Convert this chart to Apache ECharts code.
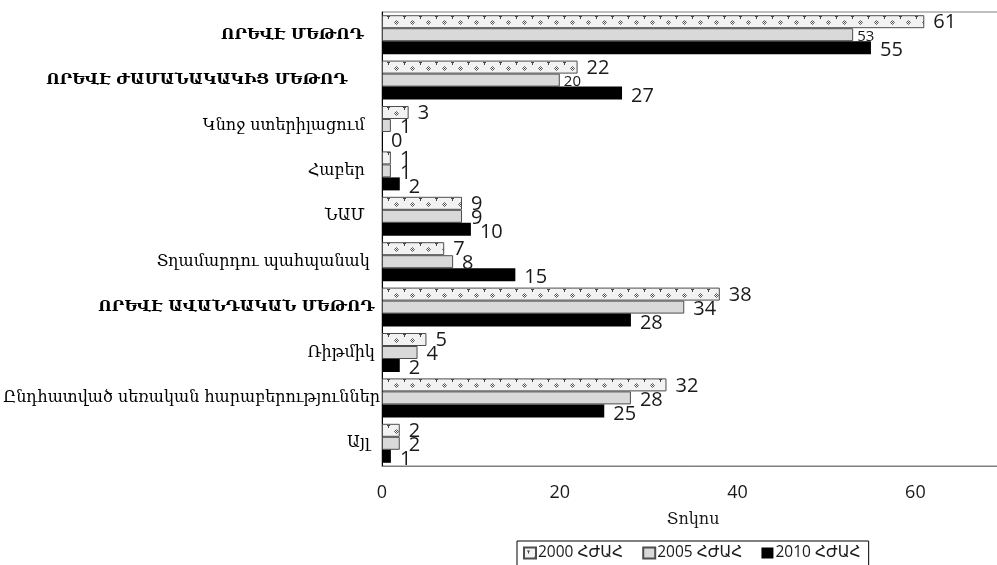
<!DOCTYPE html>
<html>
<head>
<meta charset="utf-8">
<script src="https://cdn.jsdelivr.net/npm/echarts@6/dist/echarts.min.js"></script>
<style>
  html, body { margin: 0; padding: 0; background: #ffffff; }
  #chart { width: 997px; height: 565px; }
</style>
</head>
<body>
<div id="chart"></div>
<script>
// Contraceptive method use, percent, by survey year
const categories = [
  'ՈՐԵՎԷ ՄԵԹՈԴ   ',
  'ՈՐԵՎԷ ԺԱՄԱՆԱԿԱԿԻՑ ՄԵԹՈԴ      ',
  'Կնոջ ստերիլացում   ',
  'Հաբեր   ',
  'ՆԱՄ   ',
  'Տղամարդու պահպանակ  ',
  'ՈՐԵՎԷ ԱՎԱՆԴԱԿԱՆ ՄԵԹՈԴ ',
  'Ռիթմիկ ',
  'Ընդհատված սեռական հարաբերություններ',
  'Այլ  '
];
const seriesNames = ['2000 ՀԺԱՀ', '2005 ՀԺԱՀ', '2010 ՀԺԱՀ'];
const values2000 = [61, 22, 3, 1, 9, 7, 38, 5, 32, 2];
const values2005 = [53, 20, 1, 1, 9, 8, 34, 4, 28, 2];
const values2010 = [55, 27, 0, 2, 10, 15, 28, 2, 25, 1];
const xTicks = [0, 20, 40, 60];
const xAxisTitle = 'Տոկոս';

const NUM_FONT = '"Open Sans", sans-serif';
const CAT_FONT = '"DejaVu Serif", serif';

// Small dotted-diamond fill used for the first series
function makeDotPattern() {
  const c = document.createElement('canvas');
  c.width = 16; c.height = 13;
  const g = c.getContext('2d');
  g.fillStyle = '#f2f2f2';
  g.fillRect(0, 0, 16, 13);
  g.fillStyle = '#444';
  // small mark under the top edge
  g.fillRect(3, 1, 3, 1);
  g.fillRect(4, 2, 1, 2);
  // small diamond in the middle
  g.strokeStyle = '#555';
  g.lineWidth = 1;
  g.beginPath();
  g.moveTo(12.5, 5.5); g.lineTo(14.5, 7.5); g.lineTo(12.5, 9.5); g.lineTo(10.5, 7.5); g.closePath();
  g.stroke();
  g.fillRect(12, 7, 1, 1);
  return c;
}
const dotCanvas = makeDotPattern();

const BAR_H = 13;
const labelBase = {
  show: true,
  position: 'right',
  distance: 9,
  offset: [0, 1],
  color: '#1a1a1a',
  fontFamily: NUM_FONT,
  fontSize: 20
};

function buildItems(values, overrides) {
  return values.map((v, i) => {
    const item = { value: v };
    if (overrides && overrides[i]) Object.assign(item, overrides[i]);
    return item;
  });
}

const chart = echarts.init(document.getElementById('chart'), null, { renderer: 'canvas' });

const GRID_LEFT = 382, GRID_TOP = 12, GRID_H = 454, X_MAX = 70, PX_PER_UNIT = 8.89;

function buildOption(patternOffsets) {
  const patternFor = i => ({
    image: dotCanvas,
    repeat: 'repeat',
    x: 0,
    y: patternOffsets ? patternOffsets[i] : 0
  });
  const items2000 = values2000.map((v, i) => ({ value: v, itemStyle: { color: patternFor(i) } }));
  const small2005 = { label: { fontSize: 15, distance: 4, offset: [0, 2] } };
  return {
    animation: false,
    backgroundColor: '#ffffff',
    grid: {
      left: GRID_LEFT,
      top: GRID_TOP,
      height: GRID_H,
      width: X_MAX * PX_PER_UNIT,
      outerBoundsMode: 'none',
      show: true,
      borderColor: '#7f7f7f',
      borderWidth: 1,
      containLabel: false
    },
    legend: {
      data: seriesNames,
      left: 517,
      top: 541,
      orient: 'horizontal',
      icon: 'rect',
      itemWidth: 12,
      itemHeight: 11,
      itemGap: 19,
      padding: [4, 8, 6, 6],
      borderColor: '#000',
      borderWidth: 1,
      textStyle: { fontFamily: '"Open Sans", "DejaVu Sans", sans-serif', fontSize: 15.5, color: '#1a1a1a', padding: [0, 0, 0, -3] }
    },
    xAxis: {
      type: 'value',
      min: 0,
      max: X_MAX,
      interval: 20,
      name: xAxisTitle,
      nameLocation: 'middle',
      nameGap: 46,
      nameTextStyle: { fontFamily: CAT_FONT, fontSize: 16, color: '#1a1a1a' },
      axisLine: { show: true, lineStyle: { color: '#7f7f7f' } },
      axisTick: { show: false },
      splitLine: { show: false },
      axisLabel: {
        margin: 18,
        fontFamily: NUM_FONT,
        fontSize: 18,
        color: '#1a1a1a',
        showMaxLabel: false,
        formatter: v => (xTicks.indexOf(v) >= 0 ? String(v) : '')
      }
    },
    yAxis: {
      type: 'category',
      data: categories,
      inverse: true,
      axisLine: { show: true, lineStyle: { color: '#000', width: 1 } },
      axisTick: { show: false },
      axisLabel: {
        margin: 2,
        color: '#000',
        fontFamily: CAT_FONT,
        fontSize: 16,
        formatter: name => (name.indexOf('ՈՐԵՎԷ') === 0 ? '{b|' + name + '}' : name),
        rich: {
          b: { fontFamily: CAT_FONT, fontSize: 15.5, fontWeight: 'bold', color: '#000' }
        }
      }
    },
    series: [
      {
        name: seriesNames[0],
        type: 'bar',
        barWidth: BAR_H,
        barGap: '0%',
        data: items2000,
        itemStyle: { color: patternFor(0), borderColor: '#4d4d4d', borderWidth: 1 },
        label: Object.assign({}, labelBase)
      },
      {
        name: seriesNames[1],
        type: 'bar',
        barWidth: BAR_H,
        barGap: '0%',
        data: buildItems(values2005, { 0: small2005, 1: small2005 }),
        itemStyle: { color: '#d9d9d9', borderColor: '#4d4d4d', borderWidth: 1 },
        label: Object.assign({}, labelBase, { offset: [0, 2] })
      },
      {
        name: seriesNames[2],
        type: 'bar',
        barWidth: BAR_H,
        barGap: '0%',
        data: values2010,
        itemStyle: { color: '#000000' },
        label: Object.assign({}, labelBase, { offset: [0, 3] })
      }
    ]
  };
}

chart.setOption(buildOption(null));
// Anchor the dotted fill to the top of each first-series bar
const offsets = categories.map((c, i) => {
  const center = chart.convertToPixel({ yAxisIndex: 0 }, i);
  return Math.round(center - 1.5 * BAR_H);
});
chart.setOption(buildOption(offsets), true);
</script>
</body>
</html>
